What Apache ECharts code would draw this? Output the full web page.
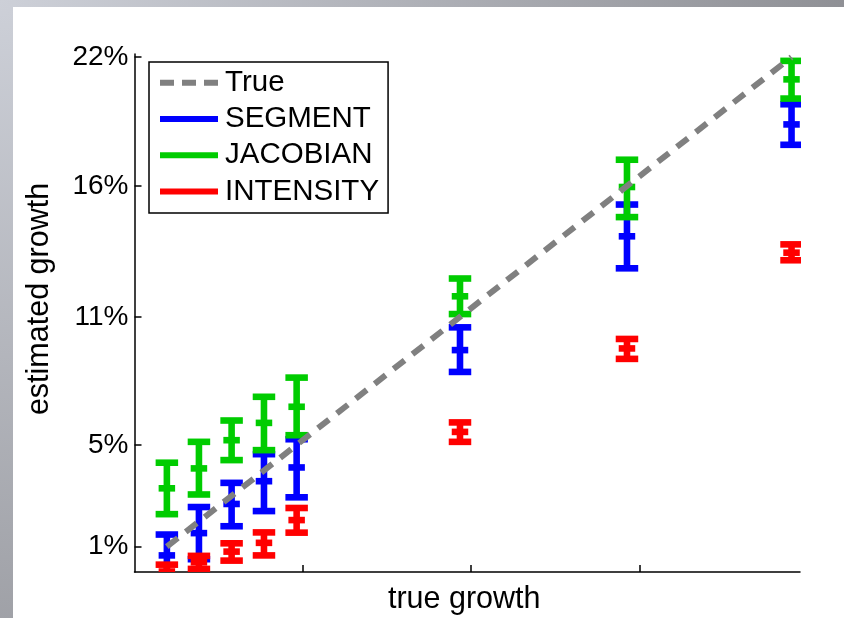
<!DOCTYPE html>
<html><head><meta charset="utf-8">
<script src="https://cdn.jsdelivr.net/npm/echarts@6/dist/echarts.min.js"></script>
<style>
html,body{margin:0;padding:0;width:844px;height:618px;overflow:hidden;}
body{background: radial-gradient(circle at 0 0, #cdd0d8 0px, #8b8c91 900px);}
#panel{position:absolute;left:13px;top:7px;right:0;bottom:0;background:#fff;}
#chart{position:absolute;left:0;top:0;width:844px;height:618px;}
</style></head>
<body><div id="panel"></div><div id="chart"></div>
<script>
// true growth (x) for each experiment, in %
const trueGrowth = [1.07, 2.13, 3.21, 4.28, 5.36, 10.76, 16.28, 21.72];
// SEGMENT estimates: low / mid / high (%)
const segmentLow  = [-0.18, 0.54, 1.93, 2.57, 3.15, 8.44, 12.81, 18.02];
const segmentMid  = [0.70, 1.64, 2.87, 3.83, 4.41, 9.36, 14.16, 18.88];
const segmentHigh = [1.58, 2.74, 3.76, 4.97, 5.60, 10.32, 15.50, 19.73];
// JACOBIAN estimates
const jacobianLow  = [2.44, 3.27, 4.72, 5.14, 5.77, 10.88, 14.97, 19.97];
const jacobianMid  = [3.53, 4.37, 5.56, 6.29, 6.97, 11.63, 16.24, 20.78];
const jacobianHigh = [4.61, 5.49, 6.39, 7.39, 8.20, 12.38, 17.39, 21.56];
// INTENSITY estimates
const intensityLow  = [-0.27, 0.13, 0.48, 0.70, 1.66, 5.49, 8.99, 13.15];
const intensityMid  = [0.02, 0.41, 0.86, 1.23, 2.19, 5.91, 9.43, 13.47];
const intensityHigh = [0.31, 0.68, 1.21, 1.67, 2.70, 6.31, 9.83, 13.82];
// axis ticks
const yTickValues = [1.07, 5.36, 10.76, 16.28, 21.72];
const xTickValues = [5.56, 11.13, 16.7];
const seriesNames = ['True', 'SEGMENT', 'JACOBIAN', 'INTENSITY'];

const FONT = 'Liberation Sans, Arial, sans-serif';

function bars(low, mid, high) {
  return trueGrowth.map((x, i) => [x, low[i], mid[i], high[i]]);
}
function makeRender(color) {
  return function (params, api) {
    const x = api.value(0);
    const pLo = api.coord([x, api.value(1)]);
    const pMid = api.coord([x, api.value(2)]);
    const pHi = api.coord([x, api.value(3)]);
    const cx = pLo[0];
    const T = 6.6, CAP = 22.5, MK = 16.5, STEM = 6.6;
    const style = { fill: color };
    return {
      type: 'group',
      children: [
        { type: 'rect', shape: { x: cx - STEM / 2, y: pHi[1], width: STEM, height: pLo[1] - pHi[1] }, style },
        { type: 'rect', shape: { x: cx - CAP / 2, y: pHi[1] - T / 2, width: CAP, height: T }, style },
        { type: 'rect', shape: { x: cx - CAP / 2, y: pLo[1] - T / 2, width: CAP, height: T }, style },
        { type: 'rect', shape: { x: cx - MK / 2, y: pMid[1] - T / 2, width: MK, height: T }, style }
      ]
    };
  };
}
function errSeries(name, color, data) {
  return {
    name, type: 'custom', clip: true, color: color,
    itemStyle: { color: color },
    renderItem: makeRender(color),
    encode: { x: 0, y: [1, 2, 3] },
    data
  };
}

const chart = echarts.init(document.getElementById('chart'), null, { renderer: 'canvas' });
chart.setOption({
  backgroundColor: 'transparent',
  animation: false,
  textStyle: { fontFamily: FONT },
  grid: { left: 134.5, right: 44, top: 54, bottom: 46, outerBoundsMode: 'none', containLabel: false },
  legend: {
    orient: 'vertical', left: 149, top: 62,
    padding: [5.7, 9, 6.3, 11],
    backgroundColor: '#fff', borderColor: '#000', borderWidth: 1.5,
    itemWidth: 58, itemHeight: 6, itemGap: 6.3,
    textStyle: { fontFamily: FONT, fontSize: 29.5, lineHeight: 30, color: '#000', padding: [0, 0, 0, 2] },
    data: [
      { name: seriesNames[0], icon: 'path://M0,0h14v6h-14z M22,0h14v6h-14z M44,0h14v6h-14z' },
      { name: seriesNames[1], icon: 'rect' },
      { name: seriesNames[2], icon: 'rect' },
      { name: seriesNames[3], icon: 'rect' }
    ]
  },
  xAxis: {
    type: 'value', min: 0, max: 22,
    name: 'true growth', nameLocation: 'middle', nameGap: 12,
    nameTextStyle: { fontFamily: FONT, fontSize: 30.5, color: '#000', padding: [0, 6, 0, 0] },
    axisLine: { lineStyle: { color: '#000', width: 1.5 } },
    axisTick: { inside: true, length: 7, customValues: xTickValues, lineStyle: { color: '#000', width: 1.5 } },
    axisLabel: { show: false },
    splitLine: { show: false }
  },
  yAxis: {
    type: 'value', min: 0, max: 21.85,
    name: 'estimated growth', nameLocation: 'middle', nameGap: 79, nameRotate: 90,
    nameTextStyle: { fontFamily: FONT, fontSize: 30.5, color: '#000', padding: [0, 0, 0, 28] },
    axisLine: { show: true, lineStyle: { color: '#000', width: 1.5 } },
    axisTick: { show: true, inside: true, length: 7, customValues: yTickValues, lineStyle: { color: '#000', width: 1.5 } },
    axisLabel: {
      customValues: yTickValues, margin: 6,
      fontFamily: FONT, fontSize: 28, color: '#000',
      formatter: v => Math.round(v) + '%'
    },
    splitLine: { show: false }
  },
  series: [
    {
      name: seriesNames[0], type: 'line', color: '#808080',
      showSymbol: false, symbol: 'none',
      itemStyle: { color: '#808080' },
      lineStyle: { color: '#808080', width: 6, type: [14, 10] },
      data: [[trueGrowth[0], trueGrowth[0]], [trueGrowth[trueGrowth.length - 1], trueGrowth[trueGrowth.length - 1]]]
    },
    errSeries(seriesNames[1], '#0000ff', bars(segmentLow, segmentMid, segmentHigh)),
    errSeries(seriesNames[2], '#00cc00', bars(jacobianLow, jacobianMid, jacobianHigh)),
    errSeries(seriesNames[3], '#ff0000', bars(intensityLow, intensityMid, intensityHigh))
  ]
});
</script>
</body></html>
